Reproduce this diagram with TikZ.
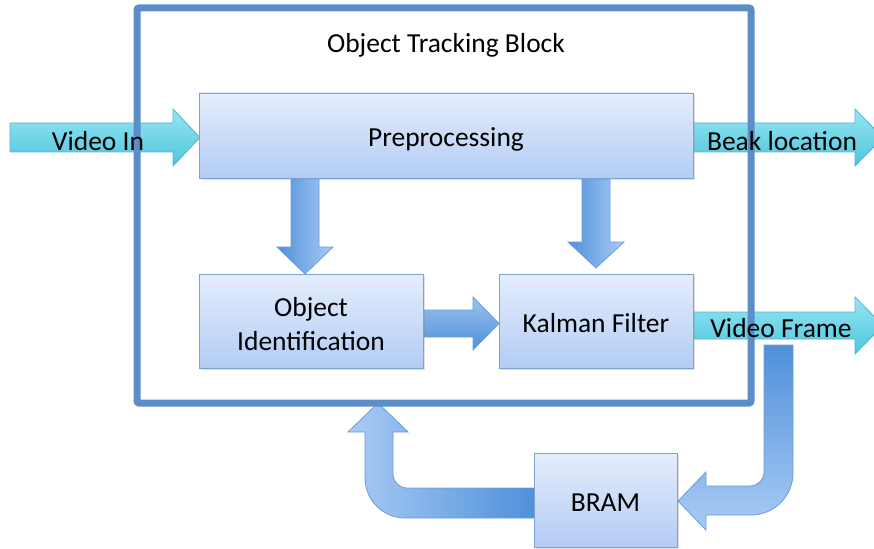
\documentclass[tikz,border=0pt]{standalone}
\usepackage{fontspec}
\setmainfont{Carlito}
\usetikzlibrary{shadows}

\definecolor{boxtop}{HTML}{E4EDFC}
\definecolor{boxbot}{HTML}{B3CCF4}
\definecolor{boxline}{HTML}{7DA2D6}
\definecolor{cyantop}{HTML}{95E6F3}
\definecolor{cyanbot}{HTML}{4FC5DC}
\definecolor{cyanline}{HTML}{5AB3CE}
\definecolor{flowdark}{HTML}{4F90DA}
\definecolor{flowlight}{HTML}{A9CBF5}
\definecolor{flowline}{HTML}{6C9DD6}
\definecolor{frameblue}{HTML}{5B8EC6}

\begin{document}
\begin{tikzpicture}[x=1pt,y=-1pt,
  font=\fontsize{27.5}{34}\selectfont,
  stagebox/.style={draw=boxline, line width=0.9pt, top color=boxtop, bottom color=boxbot,
    inner sep=0pt, text height=22.5pt, text depth=0pt,
    drop shadow={shadow xshift=1.5pt, shadow yshift=-2pt, opacity=0.25}},
  iobar/.style={draw=cyanline, line width=0.8pt, top color=cyantop, bottom color=cyanbot},
  flowdown/.style={draw=flowline, line width=0.8pt, left color=flowdark, right color=flowlight},
  flowright/.style={draw=flowline, line width=0.8pt, top color=flowlight!85!flowdark, bottom color=flowdark},
  label/.style={inner sep=0pt, text height=22pt, text depth=0pt}]

\clip (0,0) rectangle (874,548);

% input / output bars
\path[iobar] (10,123) -- (173,123) -- (173,109) -- (200,137.5) -- (173,166) -- (173,152) -- (10,152) -- cycle;
\path[iobar] (693,123) -- (855,123) -- (855,109) -- (883,137.5) -- (855,166) -- (855,152) -- (693,152) -- cycle;
\path[iobar] (693,312) -- (855,312) -- (855,297) -- (883,325.5) -- (855,354) -- (855,339) -- (693,339) -- cycle;

% internal data flow
\path[flowdown] (291,178) -- (319,178) -- (319,247) -- (333,247) -- (305,274) -- (277,247) -- (291,247) -- cycle;
\path[flowdown] (582,178) -- (610,178) -- (610,242) -- (624,242) -- (596,268) -- (568,242) -- (582,242) -- cycle;
\path[flowright] (423,310) -- (473,310) -- (473,297) -- (499,323.5) -- (473,350) -- (473,337) -- (423,337) -- cycle;

% frame buffer loop through BRAM
\path[draw=flowline, line width=0.8pt, top color=flowdark, bottom color=flowlight]
  (764,345) -- (793,345) -- (793,473) .. controls (793,496.2) and (774.2,515) .. (751,515)
  -- (706,515) -- (706,530) -- (678,501) -- (706,472) -- (706,486) -- (750,486)
  .. controls (757.7,486) and (764,479.7) .. (764,472) -- cycle;
\path[draw=flowline, line width=0.8pt, left color=flowlight, right color=flowdark]
  (535,488) -- (407,488) .. controls (399.3,488) and (393,481.7) .. (393,474)
  -- (393,432) -- (408,432) -- (378,403) -- (348,432) -- (365,432) -- (365,478)
  .. controls (365,500) and (383,518) .. (405,518) -- (535,518) -- cycle;

% processing stages
\node[stagebox, minimum width=494pt, minimum height=85pt] (pre) at (446,135.5) {Preprocessing};
\node[stagebox, minimum width=224pt, minimum height=94pt, align=center,
      text height=59pt, text depth=0pt] (objid) at (311,321) {Object\\Identification};
\node[stagebox, minimum width=194pt, minimum height=94pt] (kalman) at (596,321) {Kalman Filter};
\node[stagebox, minimum width=143pt, minimum height=94pt] (bram) at (605.5,500) {BRAM};

% enclosing block
\node[draw=frameblue, line width=7pt, rounded corners=2pt, inner sep=0pt,
      minimum width=614pt, minimum height=395pt] (block) at (444,205.5) {};
\node[label] (title) at (446,42) {Object Tracking Block};

% bar labels
\node[label] (vin) at (98,140) {Video In};
\node[label] (beak) at (782,140) {Beak location};
\node[label] (vframe) at (781,326.5) {Video Frame};
\end{tikzpicture}
\end{document}
